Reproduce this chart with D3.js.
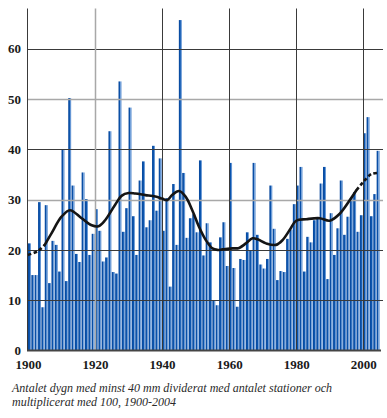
<!DOCTYPE html>
<html>
<head>
<meta charset="utf-8">
<script src="https://cdn.jsdelivr.net/npm/d3@7"></script>
<style>
  body { margin: 0; background: #fff; }
  svg { display: block; }
</style>
</head>
<body>
<svg width="387" height="418"></svg>
<script>

const years = d3.range(1900, 2005);

const values = [
  21.3, 15.0, 15.0, 29.5, 8.6, 28.9, 13.4, 21.8, 21.0, 15.7,
  40.0, 13.8, 50.2, 32.8, 19.2, 17.6, 35.4, 30.1, 19.0, 23.2,
  28.1, 23.8, 17.7, 18.5, 43.6, 15.6, 15.3, 53.5, 23.6, 28.3,
  48.3, 26.7, 19.0, 33.8, 37.6, 24.5, 25.9, 40.7, 27.8, 38.2,
  23.8, 30.3, 12.7, 33.1, 21.0, 65.7, 35.3, 22.4, 26.3, 27.1,
  23.5, 37.8, 18.9, 25.3, 21.5, 10.0, 9.0, 22.5, 25.5, 16.8,
  37.3, 16.4, 8.7, 18.2, 18.0, 23.5, 19.8, 37.3, 23.0, 17.1,
  16.3, 18.2, 32.8, 24.2, 14.0, 15.8, 15.6, 22.2, 24.0, 29.1,
  32.8, 36.5, 15.7, 22.6, 21.5, 25.9, 26.2, 33.2, 36.5, 14.2,
  27.3, 19.0, 24.3, 33.8, 23.0, 26.6, 30.3, 31.5, 23.6, 26.9,
  43.2, 46.4, 26.7, 31.1, 39.7
];

// smoothed trend
const trendYears = [
  1900, 1903, 1905, 1907, 1910, 1912.5, 1916, 1919, 1921, 1923,
  1926, 1928, 1930, 1932, 1935, 1938, 1940, 1941.5, 1943, 1945,
  1947, 1949, 1951, 1953, 1955, 1956.5, 1958, 1961, 1963, 1965,
  1967, 1968.5, 1971, 1974, 1976, 1978, 1980, 1983, 1987, 1990,
  1993, 1996, 1998, 2000, 2002.5, 2004.8
];
const trendValues = [
  19.0, 19.8, 21.0, 23.3, 26.6, 27.9, 26.3, 24.9, 24.7, 25.9,
  29.0, 30.8, 31.3, 31.2, 30.9, 30.6, 30.2, 29.9, 30.9, 31.7,
  30.6, 27.9, 24.6, 22.0, 20.3, 20.0, 20.1, 20.3, 20.4, 21.3,
  22.3, 22.1, 21.3, 21.0, 22.0, 23.9, 25.8, 26.1, 26.3, 25.8,
  27.2, 29.9, 31.9, 33.5, 35.1, 35.3
];

const yTicks = [0, 10, 20, 30, 40, 50, 60];
const xTicks = [1900, 1920, 1940, 1960, 1980, 2000];
const caption = [
  'Antalet dygn med minst 40 mm dividerat med antalet stationer och',
  'multiplicerat med 100, 1900-2004'
];

const svg = d3.select('svg');

const plotLeft = 28;
const plotRight = 380;
const plotTop = 8.5;
const plotBottom = 350.5;

const x = d3.scaleLinear()
    .domain([1900, 2005])
    .range([plotLeft, plotRight]);

const y = d3.scaleLinear()
    .domain([0, 68])
    .range([plotBottom, plotTop]);

const defs = svg.append('defs');
const grad = defs.append('linearGradient')
    .attr('id', 'barFill')
    .attr('x1', 0).attr('x2', 1)
    .attr('y1', 0).attr('y2', 0);
grad.append('stop').attr('offset', '0%').attr('stop-color', '#08469a');
grad.append('stop').attr('offset', '55%').attr('stop-color', '#0b56b0');
grad.append('stop').attr('offset', '62%').attr('stop-color', '#7aa6dc');
grad.append('stop').attr('offset', '100%').attr('stop-color', '#4a82ca');

const bars = svg.append('g')
    .selectAll('rect')
    .data(years)
    .join('rect')
        .attr('x', d => x(d))
        .attr('y', (d, i) => y(values[i]))
        .attr('width', d => x(d + 1) - x(d) - 0.45)
        .attr('height', (d, i) => y(0) - y(values[i]))
        .attr('fill', 'url(#barFill)');

const lightH = [30, 50];
const lightV = [1920];

const grid = svg.append('g');

grid.selectAll('line.h')
    .data(yTicks.filter(d => d > 0))
    .join('line')
        .attr('class', 'h')
        .attr('x1', plotLeft)
        .attr('x2', plotRight + 3)
        .attr('y1', d => Math.round(y(d)) + 0.5)
        .attr('y2', d => Math.round(y(d)) + 0.5)
        .attr('stroke', d => lightH.includes(d) ? '#a8a8a8' : '#3a3a3a')
        .attr('stroke-width', d => lightH.includes(d) ? 1.5 : 1);

grid.selectAll('line.v')
    .data(xTicks.filter(d => d > 1900))
    .join('line')
        .attr('class', 'v')
        .attr('x1', d => Math.round(x(d)) + 0.5)
        .attr('x2', d => Math.round(x(d)) + 0.5)
        .attr('y1', plotTop)
        .attr('y2', plotBottom)
        .attr('stroke', d => lightV.includes(d) ? '#a8a8a8' : '#3a3a3a')
        .attr('stroke-width', d => lightV.includes(d) ? 1.5 : 1);

// axis lines
svg.append('line')
    .attr('x1', plotLeft - 0.5).attr('x2', plotLeft - 0.5)
    .attr('y1', plotTop).attr('y2', plotBottom)
    .attr('stroke', '#3a3a3a');

svg.append('line')
    .attr('x1', plotLeft - 1).attr('x2', plotRight + 1)
    .attr('y1', plotBottom).attr('y2', plotBottom)
    .attr('stroke', '#444')
    .attr('stroke-width', 2);

// trend curve: dashed at both ends
const trend = trendYears.map((d, i) => ({ year: d, value: trendValues[i] }));
const line = d3.line()
    .x(d => x(d.year))
    .y(d => y(d.value))
    .curve(d3.curveCatmullRom.alpha(0.5));

const pieces = [
  { from: 1900, to: 1905, dash: '3.5,2.5' },
  { from: 1905, to: 1998, dash: null },
  { from: 1998, to: 2005, dash: '3.5,2.5' }
];

svg.append('g')
    .selectAll('path')
    .data(pieces)
    .join('path')
        .attr('d', p => line(trend.filter(d => d.year >= p.from && d.year <= p.to)))
        .attr('fill', 'none')
        .attr('stroke', '#151515')
        .attr('stroke-width', 2.6)
        .attr('stroke-linecap', p => p.dash ? 'butt' : 'round')
        .attr('stroke-dasharray', p => p.dash);

// axes (labels only)
const yAxis = svg.append('g')
    .attr('transform', `translate(${plotLeft - 7}, 0)`)
    .call(d3.axisLeft(y).tickValues(yTicks).tickSize(0).tickPadding(0));

const xAxis = svg.append('g')
    .attr('transform', `translate(0, ${plotBottom + 10})`)
    .call(d3.axisBottom(x).tickValues(xTicks).tickSize(0).tickPadding(0).tickFormat(d3.format('d')));

svg.selectAll('.domain').remove();

svg.selectAll('.tick text')
    .attr('font-family', '"Liberation Serif", "DejaVu Serif", serif')
    .attr('font-weight', 'bold')
    .attr('font-size', 13)
    .attr('fill', '#1a1a1a');

xAxis.selectAll('.tick text')
    .attr('dy', '0.68em');

svg.append('g')
    .selectAll('text')
    .data(caption)
    .join('text')
        .attr('x', 12)
        .attr('y', (d, i) => 392 + i * 14)
        .attr('font-family', '"Liberation Serif", "DejaVu Serif", serif')
        .attr('font-style', 'italic')
        .attr('font-size', 12)
        .attr('fill', '#2a2a2a')
        .text(d => d);

</script>
</body>
</html>
